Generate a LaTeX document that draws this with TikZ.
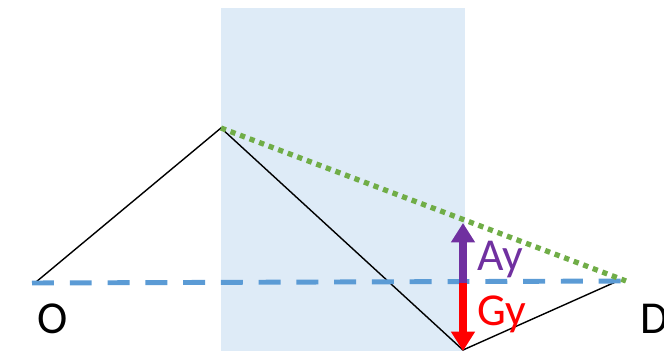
\documentclass[tikz,border=0pt]{standalone}
\usepackage{fontspec}
\setmainfont{Carlito}
\usetikzlibrary{arrows.meta,positioning}
\definecolor{slabblue}{RGB}{222,235,247}
\definecolor{axisblue}{RGB}{91,155,213}
\definecolor{raygreen}{RGB}{112,173,71}
\definecolor{forcepurple}{RGB}{112,48,160}
\definecolor{forcered}{RGB}{255,0,0}

\begin{document}
\begin{tikzpicture}[x=0.02cm,y=-0.02cm,
    every node/.style={inner sep=0pt,anchor=base west},
    pointlabel/.style={font=\fontsize{26}{30}\selectfont},
    forcelabel/.style={font=\fontsize{26}{30}\selectfont},
    force/.style={line width=4.5pt,-{Triangle[length=11pt,width=13pt]}}]
    \useasboundingbox (0,0) rectangle (664,351);
    \fill[slabblue] (221,8) rectangle (465,351);
    % path points
    \coordinate (src) at (36,282);
    \coordinate (top) at (221,128);
    \coordinate (low) at (463,350);
    \coordinate (dst) at (620,280);
    \coordinate (axisl) at (32,283);
    \coordinate (axisr) at (626,281);
    \coordinate (mid) at (463,283);
    \coordinate (ahead) at (463,223);
    \coordinate (ghead) at (463,351);
    \draw[line width=0.8pt] (src) -- (top) -- (low) -- (dst);
    \draw[axisblue,line width=2.8pt,dash pattern=on 12.5pt off 9pt] (axisl) -- (axisr);
    \draw[raygreen,line width=3pt,dash pattern=on 3pt off 2.8pt] (top) -- (axisr);
    % forces
    \draw[force,forcepurple] (mid) -- (ahead);
    \draw[force,forcered] (mid) -- (ghead);
    \node[forcelabel,text=forcepurple] (ay) at (477,271) {Ay};
    \node[forcelabel,text=forcered] (gy) at (477,326) {Gy};
    \node[pointlabel] (o) at (37,334) {O};
    \node[pointlabel] (d) at (640,334) {D};
\end{tikzpicture}
\end{document}
